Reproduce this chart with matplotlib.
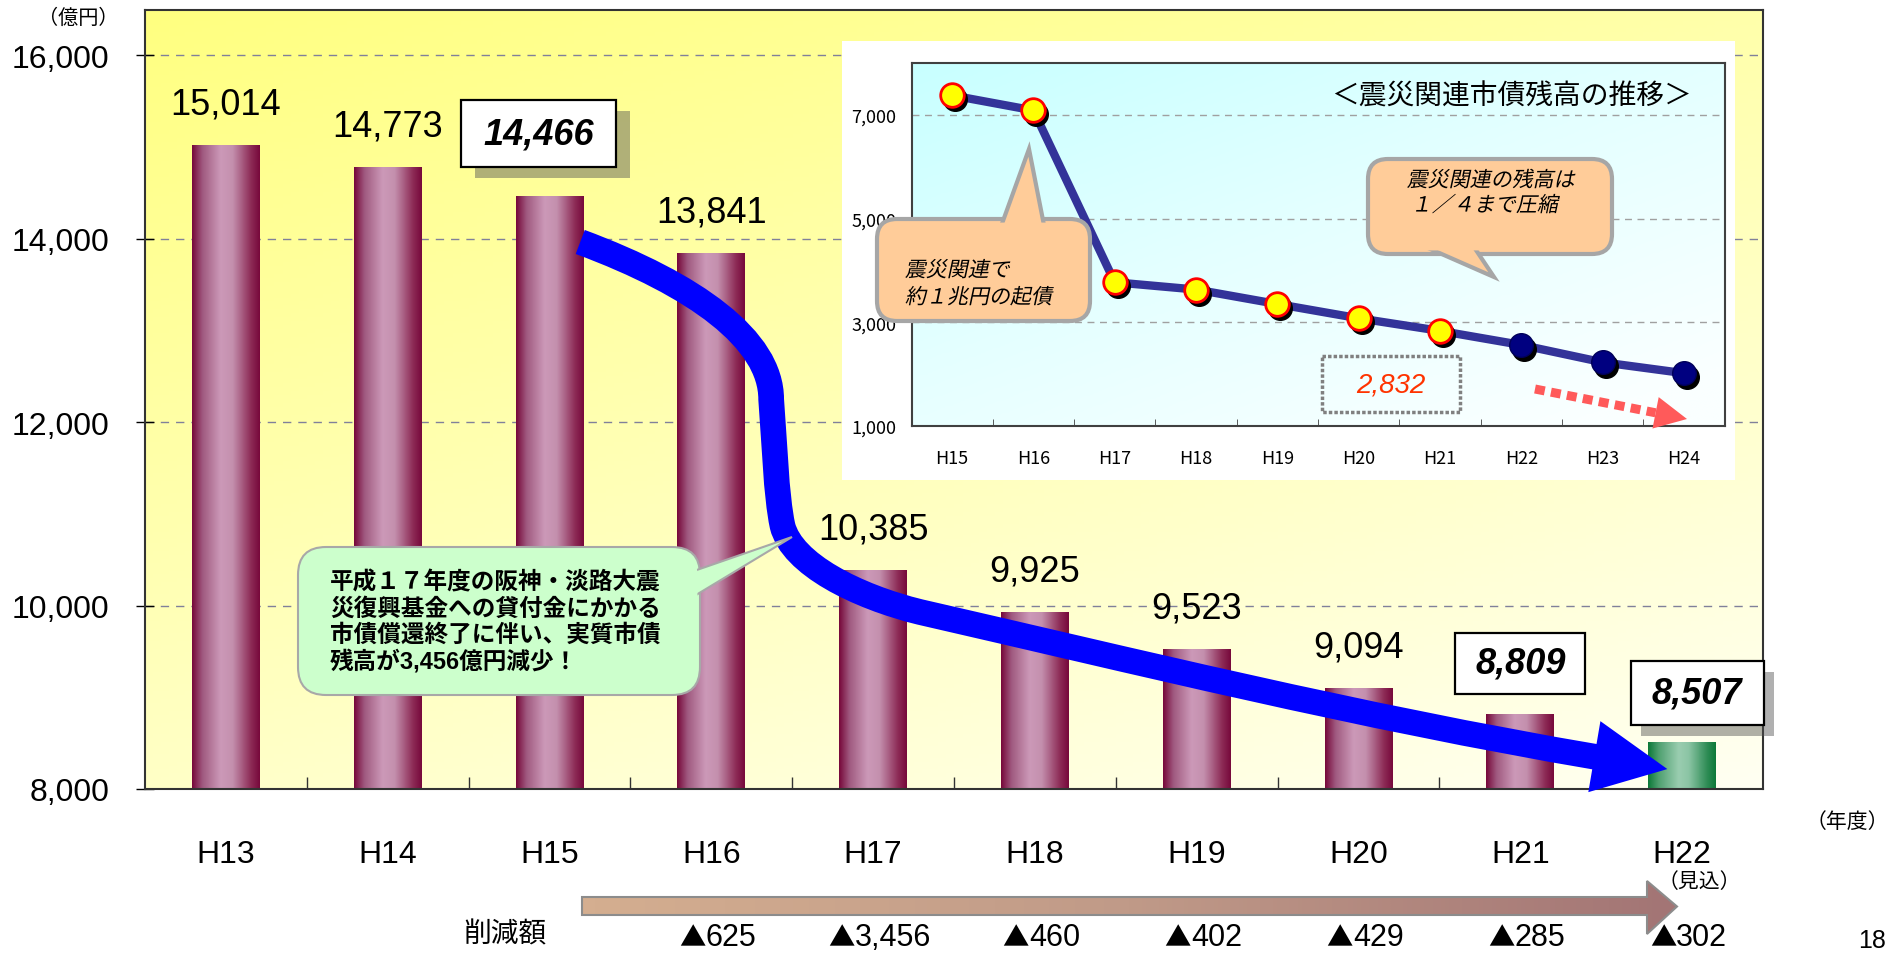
import numpy as np
import matplotlib
matplotlib.use('Agg')
import matplotlib.pyplot as plt
import matplotlib.patheffects as pe
from matplotlib.colors import LinearSegmentedColormap
from matplotlib.patches import FancyBboxPatch, Polygon, PathPatch, Rectangle
from matplotlib.path import Path
from matplotlib.textpath import TextPath
from matplotlib.font_manager import FontProperties
from matplotlib.offsetbox import TextArea, HPacker, AnnotationBbox
from matplotlib.transforms import offset_copy, IdentityTransform, blended_transform_factory, Affine2D

JP = ['Liberation Sans', 'Noto Sans CJK JP', 'DejaVu Sans']
NARROW = ['Liberation Sans Narrow', 'Noto Sans CJK JP', 'DejaVu Sans']
plt.rcParams['font.family'] = JP

W, H = 1887, 954

# main chart: 市債残高 (億円)
years = ['H13', 'H14', 'H15', 'H16', 'H17', 'H18', 'H19', 'H20', 'H21', 'H22']
balance = [15014, 14773, 14466, 13841, 10385, 9925, 9523, 9094, 8809, 8507]
boxed_years = ['H15', 'H21', 'H22']
estimate_year = 'H22'
yticks = [8000, 10000, 12000, 14000, 16000]

# 削減額
cut_years = ['H16', 'H17', 'H18', 'H19', 'H20', 'H21', 'H22']
cuts = [625, 3456, 460, 402, 429, 285, 302]

# inset: 震災関連市債残高の推移
quake_years = ['H15', 'H16', 'H17', 'H18', 'H19', 'H20', 'H21', 'H22', 'H23', 'H24']
quake_balance = [7380, 7090, 3770, 3630, 3350, 3075, 2832, 2560, 2225, 2015]
n_actual = 7
quake_yticks = [1000, 3000, 5000, 7000]

fig = plt.figure(figsize=(W / 100, H / 100), dpi=100, facecolor='white')

# ---------------- main axes ----------------
ax = fig.add_axes([145 / W, 1 - 790 / H, 1618 / W, 779.5 / H], zorder=0)

yy, xx = np.mgrid[0:1:200j, 0:1:200j]
bg = np.clip(0.45 * xx + 0.75 * yy, 0, 1.2)
bg_cmap = LinearSegmentedColormap.from_list('bg', ['#FFFF80', '#FFFFB8', '#FFFFF2'])
ax.imshow(bg, cmap=bg_cmap, extent=(0, 1, 0, 1), transform=ax.transAxes,
          aspect='auto', origin='upper', zorder=0, vmin=0, vmax=1.2)

pink = LinearSegmentedColormap.from_list('pink', [(0, '#780A3C'), (0.15, '#A05A80'), (0.42, '#CC99B8'),
                                                  (0.6, '#C490AE'), (0.88, '#8C2A55'), (1, '#780A3C')])
green = LinearSegmentedColormap.from_list('green', [(0, '#0E7A3A'), (0.15, '#4FA070'), (0.45, '#9ACDB0'),
                                                    (0.6, '#8CC5A5'), (0.88, '#2E8C55'), (1, '#0E7A3A')])
x = np.arange(len(years))
bars = ax.bar(x, balance, width=0.42, color='none', zorder=2)
grad = np.linspace(0, 1, 64).reshape(1, -1)
for b, yr in zip(bars, years):
    cm = green if yr == estimate_year else pink
    ax.imshow(grad, cmap=cm, aspect='auto', zorder=2, interpolation='bilinear',
              extent=(b.get_x(), b.get_x() + b.get_width(), 0, b.get_height()))

ax.set_xlim(-0.5, len(years) - 0.5)
ax.set_ylim(8000, 16500)
ax.set_yticks(yticks, [f'{v:,}' for v in yticks])
ax.set_xticks(x, years)
ax.set_xticks(np.arange(0.5, len(years) - 1), minor=True)
ax.yaxis.grid(True, ls=(0, (6, 5)), color='#80809A', lw=1)
ax.set_axisbelow(True)
ax.tick_params(axis='y', direction='inout', length=13, width=1, labelsize=23, pad=19)
ax.tick_params(axis='x', which='major', length=0, labelsize=23, pad=36)
ax.tick_params(axis='x', which='minor', direction='in', length=9, width=1, color='#333333')
for s in ax.spines.values():
    s.set_color('#333333')
    s.set_linewidth(1.5)


def fixed_box(bw, bh):
    def style(x0, y0, width, height, mutation_size):
        cx, cy = x0 + width / 2, y0 + height / 2
        return Path([(cx - bw / 2, cy - bh / 2), (cx + bw / 2, cy - bh / 2),
                     (cx + bw / 2, cy + bh / 2), (cx - bw / 2, cy + bh / 2),
                     (cx - bw / 2, cy - bh / 2)], closed=True)
    return style


# offset (pt), box size (px), shadow offset (pt)
box_look = {'H15': ((-7.6, 45), (155, 67), (9.4, -8)),
            'H21': ((0, 37), (130, 61), None),
            'H22': ((10.8, 35.6), (133, 64), (7.2, -8))}

for xi, v, yr in zip(x, balance, years):
    if yr in boxed_years:
        off, size, sh = box_look[yr]
        t = ax.annotate(f'{v:,}', (xi, v), xytext=off, textcoords='offset points',
                        ha='center', va='center', fontsize=26, fontweight='bold', fontstyle='italic',
                        zorder=7, bbox=dict(boxstyle=fixed_box(*size), fc='white', ec='black', lw=1.6))
        if sh:
            t.get_bbox_patch().set_path_effects([
                pe.SimplePatchShadow(offset=sh, shadow_rgbFace='#505050', alpha=0.45), pe.Normal()])
    else:
        ax.annotate(f'{v:,}', (xi, v), xytext=(0, 30), textcoords='offset points',
                    ha='center', va='center', fontsize=26, zorder=6)

# big blue arrow
verts = [(2.19, 13965), (2.9, 13500), (3.37, 12900), (3.37, 12250),
         (3.39, 11800), (3.40, 11200), (3.44, 10870),
         (3.50, 10450), (3.9, 10100), (4.29, 9930),
         (5.6, 9400), (7.0, 8790), (8.47, 8349)]
codes = [Path.MOVETO] + [Path.CURVE4] * 12
ax.add_patch(PathPatch(Path(verts, codes), fc='none', ec='#0000FF', lw=18.5,
                       capstyle='butt', zorder=4))
p_end = ax.transData.transform(verts[-1])
p_c = ax.transData.transform(verts[-2])
u = (p_end - p_c) / np.hypot(*(p_end - p_c))
n = np.array([-u[1], u[0]])
base = p_end - u * 2
ax.add_patch(Polygon([base + n * 36, p_end + u * 72, base - n * 36], closed=True,
                     fc='#0000FF', ec='none', transform=IdentityTransform(), zorder=4, clip_on=False))

# ---------------- overlay (pixel coords, y down) ----------------
ov = fig.add_axes([0, 0, 1, 1], zorder=1)
ov.axis('off')
ov.set_xlim(0, W)
ov.set_ylim(H, 0)


def callout(axo, x0, y0, x1, y1, base_pts, tip, fc, ec, lw, r, z, tr):
    kw = dict(transform=tr, clip_on=False)
    axo.add_patch(FancyBboxPatch((x0, y0), x1 - x0, y1 - y0, boxstyle=f'round,pad=0,rounding_size={r}',
                                 fc=fc, ec=ec, lw=lw, zorder=z, **kw))
    cx, cy = (x0 + x1) / 2, (y0 + y1) / 2
    inner = [(bx + (cx - bx) * 0.15, by + (cy - by) * 0.15) for bx, by in base_pts]
    axo.add_patch(Polygon([inner[0], tip, inner[1]], closed=True, fc=fc, ec=ec, lw=lw, zorder=z, **kw))
    d = lw * 1.389 / 2 + 1.5
    axo.add_patch(FancyBboxPatch((x0 + d, y0 + d), x1 - x0 - 2 * d, y1 - y0 - 2 * d,
                                 boxstyle=f'round,pad=0,rounding_size={max(r - d, 1)}',
                                 fc=fc, ec='none', zorder=z, **kw))


def slanted(axo, s, xp, yp, size_px, ha, tr, z):
    # italic-looking CJK text: the CJK font has no italic face, so skew the glyph outlines
    tp = TextPath((0, 0), s, size=size_px, prop=FontProperties(family='Noto Sans CJK JP'))
    bb = tp.get_extents()
    dx = -bb.x0 if ha == 'left' else -(bb.x0 + bb.x1) / 2
    t = Affine2D().translate(dx, -size_px * 0.36).skew_deg(12, 0).scale(1, -1).translate(xp, yp)
    axo.add_patch(PathPatch(t.transform_path(tp), fc='black', ec='none', lw=0,
                            transform=tr, clip_on=False, zorder=z))


# green callout
callout(ov, 298, 548, 700, 696, [(700, 573), (700, 610)], (792, 538),
        '#CCFFCC', '#A8A8A8', 1.5, 28, 3, ov.transData)
ov.text(330, 622.5, '平成１７年度の阪神・淡路大震\n災復興基金への貸付金にかかる\n市債償還終了に伴い、実質市債\n残高が3,456億円減少！',
        ha='left', va='center', fontsize=17, fontweight='bold', linespacing=1.15, zorder=4)

# white panel behind inset
ov.add_patch(Rectangle((842, 42), 893, 439, fc='white', ec='none', zorder=1))

# bottom arrow 削減額
arrow_pts = [(582, 898), (1647, 898), (1647, 882), (1677, 907.5), (1647, 935), (1647, 916), (582, 916)]
arr = Polygon(arrow_pts, closed=True, fc='none', ec='#8C8C8C', lw=1.5, zorder=3)
ov.add_patch(arr)
arr_cmap = LinearSegmentedColormap.from_list('arr', ['#D4AE90', '#C09A88', '#A37575'])
gim = ov.imshow(grad, cmap=arr_cmap, extent=(582, 1677, 935, 882), aspect='auto', zorder=2,
                interpolation='bilinear')
gim.set_clip_path(arr)
ov.set_xlim(0, W)
ov.set_ylim(H, 0)

ov.text(78, 18, '（億円）', ha='center', va='center', fontsize=14.5)
ov.text(1847, 822, '（年度）', ha='center', va='center', fontsize=15)
ov.text(1699, 882, '（見込）', ha='center', va='center', fontsize=15)
ov.text(505, 935, '削減額', ha='center', va='center', fontsize=20)
ov.text(1872, 953, '18', ha='center', va='bottom', fontsize=18)
bt = blended_transform_factory(ax.transData, ov.transData)
for yr, c in zip(cut_years, cuts):
    lab = HPacker(children=[TextArea('▲', textprops=dict(fontsize=19, family=['Noto Sans CJK JP'])),
                            TextArea(f'{c:,}', textprops=dict(fontsize=22))],
                  pad=0, sep=0, align='baseline')
    ov.add_artist(AnnotationBbox(lab, (years.index(yr) + 0.04, 938), xycoords=bt, frameon=False,
                                 box_alignment=(0.5, 0.5), pad=0, zorder=4, annotation_clip=False))

# ---------------- inset axes ----------------
ax2 = fig.add_axes([911.5 / W, 1 - 426.7 / H, 813 / W, 362.4 / H], zorder=2)
ibg = np.clip(0.5 * xx + 0.6 * yy, 0, 1)
ibg_cmap = LinearSegmentedColormap.from_list('ibg', ['#C8FFFF', '#E4FFFF', '#FAFFFF'])
ax2.imshow(ibg, cmap=ibg_cmap, extent=(0, 1, 0, 1), transform=ax2.transAxes,
           aspect='auto', origin='upper', zorder=0, vmin=0, vmax=1)

ix = np.arange(len(quake_years))
ax2.plot(ix, quake_balance, color='#333399', lw=6, zorder=2, solid_joinstyle='round')
shadow = offset_copy(ax2.transData, fig=fig, x=3, y=-4, units='dots')
ax2.plot(ix, quake_balance, 'o', ms=17, color='black', transform=shadow, zorder=3)
ax2.plot(ix[:n_actual], quake_balance[:n_actual], 'o', ms=17, mfc='#FFFF00', mec='#FF0000',
         mew=2, ls='none', zorder=4)
ax2.plot(ix[n_actual:], quake_balance[n_actual:], 'o', ms=17, mfc='#000080', mec='#00005A',
         mew=1, ls='none', zorder=4)

ax2.set_xlim(-0.5, len(quake_years) - 0.5)
ax2.set_ylim(1000, 8000)
ax2.set_xticks(ix, quake_years)
ax2.set_xticks(np.arange(0.5, len(quake_years) - 1), minor=True)
ax2.set_yticks(quake_yticks, [f'{v:,}' for v in quake_yticks])
ax2.yaxis.grid(True, ls=(0, (5, 4)), color='#A0A0A0', lw=1)
ax2.set_axisbelow(True)
ax2.tick_params(axis='x', which='major', length=0, labelsize=13, pad=17)
ax2.tick_params(axis='x', which='minor', direction='in', length=5, color='#404040')
ax2.tick_params(axis='y', length=0, labelsize=13, pad=11)
for lbl in ax2.get_xticklabels() + ax2.get_yticklabels():
    lbl.set_fontfamily(NARROW)
for s in ax2.spines.values():
    s.set_color('#404040')
    s.set_linewidth(1.5)

otr = ov.transData
ax2.text(1511, 97, '＜震災関連市債残高の推移＞', transform=otr, ha='center', va='center',
         fontsize=20, clip_on=False, zorder=7)
callout(ax2, 877, 220, 1090, 322, [(1004, 220), (1055, 220)], (1029, 150),
        '#FFCC99', '#A6A6A6', 3, 20, 6, otr)
slanted(ax2, '震災関連で', 907, 270, 21, 'left', otr, 7)
slanted(ax2, '約１兆円の起債', 907, 297, 21, 'left', otr, 7)
callout(ax2, 1368, 160, 1612, 255, [(1414, 255), (1471, 255)], (1494, 278),
        '#FFCC99', '#A6A6A6', 3, 20, 6, otr)
slanted(ax2, '震災関連の残高は', 1492, 180, 21, 'center', otr, 7)
slanted(ax2, '１／４まで圧縮', 1488, 205, 21, 'center', otr, 7)

ax2.add_patch(Rectangle((1322, 357), 138, 56, fc='none', ec='#808080', lw=2.5, ls=(0, (1, 0.6)),
                        transform=otr, clip_on=False, zorder=6))
ax2.text(1391, 386, '2,832', transform=otr, ha='center', va='center', fontsize=20,
         fontstyle='italic', color='#FF3300', clip_on=False, zorder=7)

# red dotted arrow
p0 = np.array([1535.0, 390.0])
tip = np.array([1687.0, 420.0])
ud = (tip - p0) / np.hypot(*(tip - p0))
nd = np.array([-ud[1], ud[0]])
hb = tip - ud * 32
ax2.plot([p0[0], hb[0]], [p0[1], hb[1]], color='#FF5A5A', lw=6.5, ls=(0, (1.1, 0.7)),
         solid_capstyle='butt', dash_capstyle='butt', transform=otr, clip_on=False, zorder=6)
ax2.add_patch(Polygon([hb + nd * 16, tip, hb - nd * 16], closed=True, fc='#FF5A5A', ec='none',
                      transform=otr, clip_on=False, zorder=6))

fig.savefig('out.png', dpi=100)
